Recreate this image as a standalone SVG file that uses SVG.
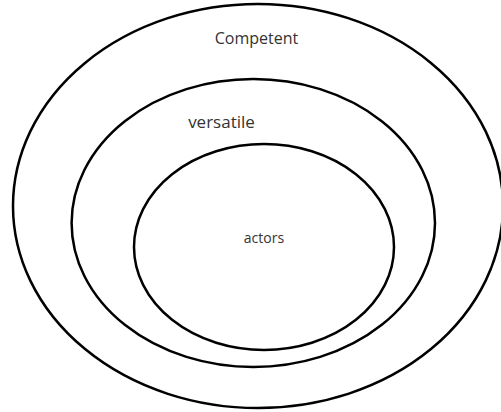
<svg xmlns="http://www.w3.org/2000/svg" width="501" height="412" viewBox="0 0 501 412">
<style>
.ring{fill:none;stroke:#000;stroke-width:2.5}
.lbl{font-family:"Open Sans","Liberation Sans",sans-serif;fill:#333;text-anchor:middle}
</style>
<rect width="501" height="412" fill="#fff"/>
<g id="competent">
<ellipse class="ring" cx="258" cy="206" rx="245" ry="202"/>
<text class="lbl" x="256.5" y="44" font-size="16">Competent</text>
</g>
<g id="versatile">
<ellipse class="ring" cx="253.3" cy="223" rx="181.7" ry="144"/>
<text class="lbl" x="221.5" y="128" font-size="17">versatile</text>
</g>
<g id="actors">
<ellipse class="ring" cx="264" cy="247" rx="130" ry="103"/>
<text class="lbl" x="264" y="243" font-size="14">actors</text>
</g>
<g id="connectors"></g>
</svg>
